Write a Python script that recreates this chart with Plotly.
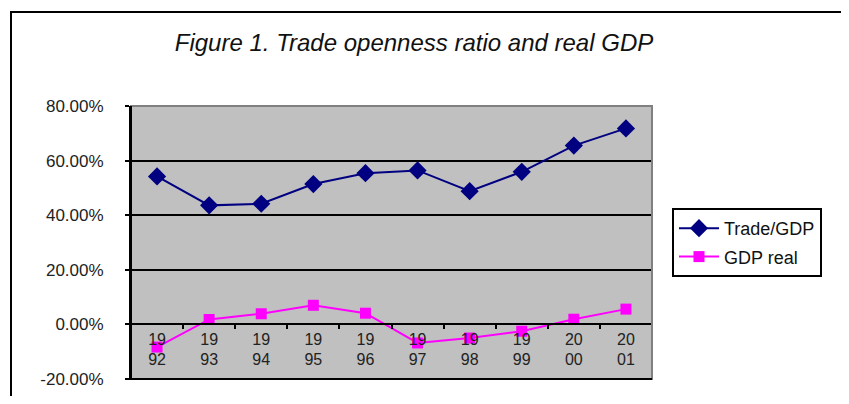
import plotly.graph_objects as go

# ---- data ----
years = ["1992", "1993", "1994", "1995", "1996", "1997", "1998", "1999", "2000", "2001"]
year_labels = ["19<br>92", "19<br>93", "19<br>94", "19<br>95", "19<br>96",
               "19<br>97", "19<br>98", "19<br>99", "20<br>00", "20<br>01"]
trade_gdp = [54.2, 43.6, 44.2, 51.4, 55.4, 56.4, 48.8, 55.9, 65.5, 71.8]
gdp_real = [-8.3, 1.8, 3.9, 7.0, 4.1, -6.8, -5.0, -2.5, 1.9, 5.6]
y_ticks = [-20, 0, 20, 40, 60, 80]
y_tick_labels = ["-20.00%", "0.00%", "20.00%", "40.00%", "60.00%", "80.00%"]

# page has an 8px body margin on every side; keep the figure inside the viewport
OFF = 8
PAGE_W, PAGE_H = 849, 404
W, H = PAGE_W - 2 * OFF, PAGE_H - 2 * OFF
FIG_R, FIG_B = OFF + W, OFF + H          # page coords of figure right/bottom
PL, PR, PT, PB = 131, 652, 106, 379       # plot area in page pixels
ML, MR, MT, MB = PL - OFF, FIG_R - PR, PT - OFF, FIG_B - PB
y_min, y_max = -20, 80
zero_pos = (0 - y_min) / (y_max - y_min)

FONT = "Liberation Sans, Arial, sans-serif"

fig = go.Figure()
fig.add_trace(go.Scatter(
    x=year_labels, y=trade_gdp, name="Trade/GDP", mode="lines+markers",
    legendgroup="a",
    line=dict(color="#000080", width=2),
    marker=dict(symbol="diamond", size=14, color="#000080"),
))
fig.add_trace(go.Scatter(
    x=year_labels, y=gdp_real, name="GDP real", mode="lines+markers",
    legendgroup="b",
    line=dict(color="#FF00FF", width=2),
    marker=dict(symbol="square", size=11, color="#FF00FF"),
))

pw = PR - PL
ph = PB - PT

def px_x(px):
    return (px - PL) / pw

def px_y(py):
    return (PB - py) / ph

frame_path = "M {l},{b} L {l},{t} L {r},{t}".format(
    l=px_x(11), b=px_y(FIG_B + 2), t=px_y(12), r=px_x(FIG_R + 2))

shapes = [
    dict(type="rect", xref="x domain", yref="y domain", x0=0, x1=1, y0=0, y1=1,
         line=dict(color="#808080", width=2), layer="above"),
    dict(type="line", xref="x domain", yref="y domain", x0=-0.008, x1=1, y0=0, y1=0,
         line=dict(color="black", width=2), layer="above"),
    dict(type="line", xref="x domain", yref="y domain", x0=0, x1=0, y0=0, y1=1,
         line=dict(color="black", width=2), layer="above"),
    # outer frame (left and top edges)
    dict(type="path", xref="paper", yref="paper", path=frame_path,
         line=dict(color="black", width=2)),
]

fig.update_layout(
    width=W, height=H,
    margin=dict(l=ML, r=MR, t=MT, b=MB, autoexpand=False),
    paper_bgcolor="white",
    plot_bgcolor="#C0C0C0",
    font=dict(family=FONT, size=17, color="#222222"),
    title=dict(text="Figure 1. Trade openness ratio and real GDP",
               x=(414 - OFF) / W, xanchor="center", y=1 - (43 - OFF) / H, yanchor="middle",
               xref="container", yref="container",
               font=dict(family=FONT, size=24, color="#111111", style="italic")),
    xaxis=dict(
        type="category", range=[-0.5, 9.5], anchor="free", position=zero_pos,
        showgrid=False, zeroline=False, showline=True, linecolor="black", linewidth=2,
        ticks="outside", ticklen=4, tickcolor="black", tickwidth=2,
        tickson="boundaries", tickfont=dict(family=FONT, size=16, color="#222222"),
        fixedrange=True,
    ),
    yaxis=dict(
        range=[y_min, y_max], tickmode="array", tickvals=y_ticks, ticktext=y_tick_labels,
        showgrid=True, gridcolor="black", gridwidth=2, zeroline=False,
        showline=True, linecolor="black", linewidth=2,
        ticks="outside", ticklen=4, tickcolor="black", tickwidth=2,
        ticklabelstandoff=18,
        tickfont=dict(family=FONT, size=17, color="#222222"),
    ),
    legend=dict(
        x=px_x(672), xanchor="left", y=px_y(208), yanchor="top",
        bgcolor="white", bordercolor="black", borderwidth=2,
        font=dict(family=FONT, size=18, color="#111111"),
        itemwidth=40, tracegroupgap=2,
    ),
    shapes=shapes,
    showlegend=True,
)

fig.write_html("out.html")
